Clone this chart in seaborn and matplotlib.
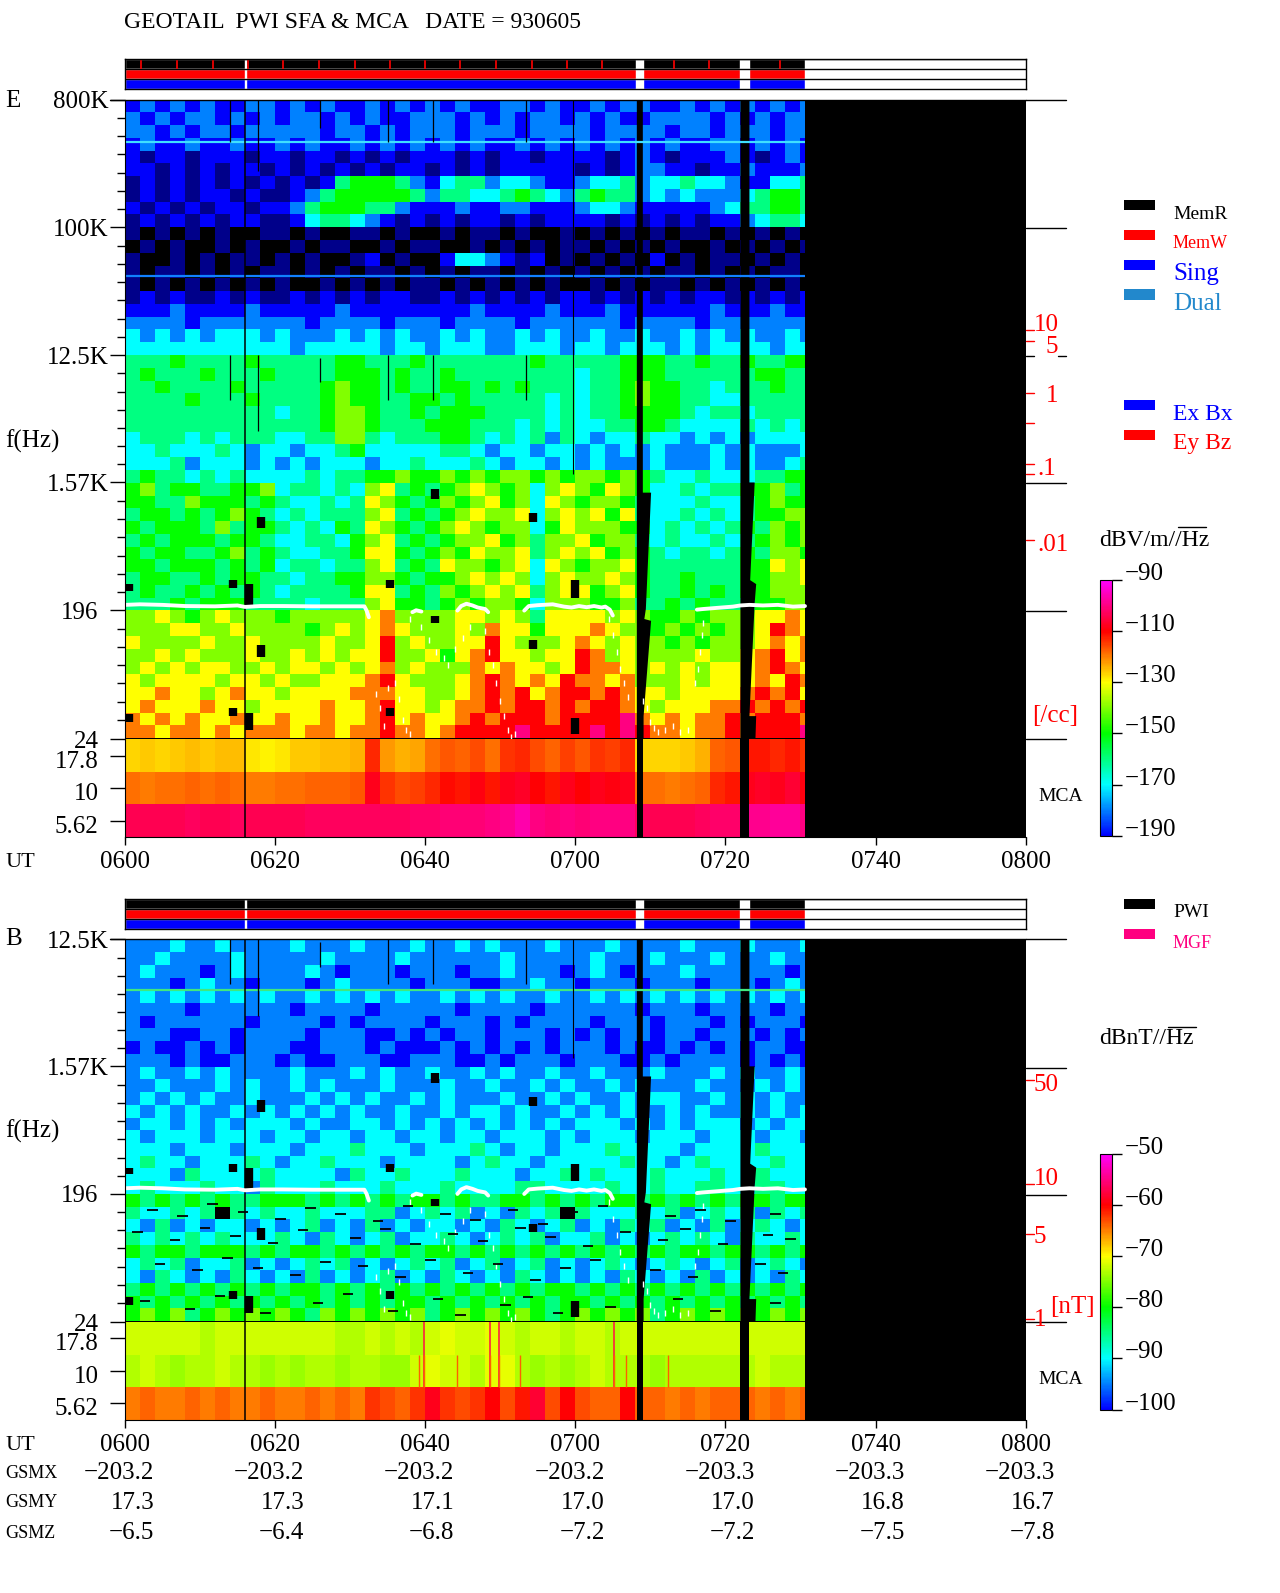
import numpy as np
import pandas as pd
import matplotlib
matplotlib.use('Agg')
import matplotlib.pyplot as plt
import seaborn as sns
from matplotlib.colors import LinearSegmentedColormap
from matplotlib.transforms import ScaledTranslation

# --- DATA ---
# one char per 2 min bin (0600-0732), level scale in LEVELS below
LEVELS = '0123456789abc'

E_ROWS = [
    # 800K - 100K
    "2323232233 2323223232 3232233232 2323322323 232323",
    "3232332323 2332323223 3323232332 3232233332 323233",
    "3323233233 3332332323 3323332333 3233332332 333233",
    "2322322322 3232232323 2323223232 3232323223 323232",
    "2122122212 2122121212 2212122122 2212321222 321232",
    "2212121221 2121212122 1212122222 1212332212 232223",
    "1212121212 1212566653 2455344322 3445344544 322445",
    "1212122121 1235666665 3554456543 5655343433 345665",
    "2121212212 2356665532 2232233222 3443222223 455665",
    "1212121221 1245543212 1212212122 2212121212 234554",
    # 100K - 12.5K
    "1010101001 1010011010 0101101001 0101010110 101010",
    "0101001010 0101100101 1001010101 1010101001 010101",
    "1001010110 1010012010 0244321201 0101020101 101010",
    "1011010101 1010101101 0101101010 1010101101 010110",
    "1010101010 1001010101 1010101010 0101011010 101010",
    "1212112121 1212121221 1212121212 2121212122 121212",
    "2223222232 2222322222 2223222232 2232222223 222322",
    "3333233333 3323333233 3233332333 3332333323 333333",
    "4343434443 4333434343 3434334343 3433433434 343343",
    "4444444444 4344444344 3444334443 4434443434 444344",
    # 12.5K - 1.57K
    "5556555565 5555665556 5555555655 5556665565 565566",
    "5655565556 5555666565 5655555555 4556665555 556655",
    "5565555655 5556766565 5665656555 4556766554 555655",
    "5555655565 5556766556 6565555545 4556766554 455555",
    "5555555555 4556776556 5666555545 4556666545 545555",
    "5555555555 5556776555 6665554545 4455665444 454545",
    "4555454555 4455775455 5665454535 4344544343 434444",
    "4454445434 4344564444 4554344344 3434343334 343334",
    "4445344434 3434443445 4445434434 3433343334 343345",
    "5655454544 4454556676 6767677676 7767654454 445566",
    # 1.57K - 196
    "6756655667 4554547856 5678767478 7687644545 566756",
    "6655766656 5445458765 6767867487 6776544454 456766",
    "5665656765 4545557856 5678778478 7868544545 456677",
    "6566657566 5454658765 6787677468 7776645454 565767",
    "5656665665 4455467856 5677867577 8677545445 456767",
    "6566556756 5445568865 6768778578 7867654554 565776",
    "6656665656 4554557856 5877678487 6778655555 566878",
    "5665565665 5455667765 6678787478 7787655655 566778",
    "5655656565 4555568856 5767878578 8678655656 566777",
    "5556566655 5545557866 5676776477 7667556565 556677",
    # 196 - 24
    "7787678777 6777778977 7788787588 8878766767 778898",
    "7778877877 7767878987 7787988688 8987767676 778a98",
    "8777787787 7778778a78 7788a87778 9878776767 778989",
    "7787877787 7878788a77 8689a88788 a978777787 789a89",
    "7878788778 7887878978 7779898878 a998787878 889a98",
    "8788887887 8778889a87 7789a9898a 9989777878 8898a9",
    "8898878988 7888899988 7789a9a89a a9a9887888 89a9a8",
    "8988898878 8889889a88 7899a9aa9a 9aa9878889 9a9a9a",
    "9898988988 9889889a89 889a9aaa9a aaab989899 a9aaa9",
    "9989989899 9899899a99 89aaaabaaa ababa99899 a9aaab",
]

B_ROWS = [
    # 12.5K - 1.57K
    "3334334333 3433343334 3343433343 3343333433 343334",
    "3343333433 3334333343 3333343333 3433343334 333433",
    "3433323433 3343233323 3323343332 3432333433 333323",
    "3332343323 3323433332 3332233433 2333233323 332343",
    "3434343434 3343434343 3434343343 3434343434 343434",
    "3333233333 3233332333 3323333233 3333233323 333233",
    "3233333323 3332323333 2333232333 3233323332 323332",
    "3332233233 3323332232 3233233323 2323323323 332323",
    "2322323233 3223332322 2323232323 3323223232 323322",
    "3332322333 2322333223 3322323332 3332232333 323232",
    # 1.57K - 196
    "3433434333 3433343433 4334343343 3433343334 343343",
    "3343334343 3434333433 3433433434 3343433343 334343",
    "3434343343 3343434334 3433343343 4334344334 343433",
    "4343433434 3434343343 3434434334 3434334343 343434",
    "3443434344 4343344343 4343434343 4443434344 434344",
    "4344434443 4434434434 4344344434 3444344434 443443",
    "4443444344 4344454443 4445434434 4454444344 445444",
    "4544344454 3445444344 4434544344 4445443454 444544",
    "4443544445 4444354454 4454443445 4544454445 445444",
    "4544454435 4445444544 4544445544 4454454455 445544",
    # 196 - 24
    "6565656556 6656565656 6565566565 6566565656 566566",
    "5445450545 4454445534 5453435450 5444545345 453545",
    "4353434434 3453435343 4434354345 3435453435 345434",
    "5454545444 5435434534 4543454534 4534345454 354454",
    "6566566656 5665656565 6656565656 5656565665 665656",
    "4545344534 3454534345 4534534534 3454345434 534543",
    "4354343543 4353434534 3543435434 3435434353 434354",
    "5656565656 5665656565 6565656566 5656565656 565656",
    "6565656565 6565656566 5656565656 6565656565 656565",
    "6767567676 7657676767 5676767656 7676756767 676767",
]

# thin black dashes in the magnetic spectrum (start minute, frequency Hz)
DASH_T = [3, 7, 11, 15, 20, 24, 28, 33, 37, 42, 46, 51, 55, 59, 63, 72, 76, 80, 86,
          1, 6, 10, 14, 19, 23, 30, 34, 38, 43, 47, 52, 56, 61, 66, 71, 74, 79, 85, 88,
          4, 9, 13, 17, 22, 26, 31, 36, 40, 45, 49, 54, 58, 62, 70, 75, 84, 87,
          2, 8, 12, 18, 25, 29, 35, 41, 44, 50, 53, 57, 64, 73, 78, 86]
DASH_F = [150, 135, 165, 145, 130, 155, 140, 125, 160, 140, 128, 150, 120, 145, 160, 135, 150, 125, 140,
          105, 92, 112, 98, 88, 108, 95, 110, 86, 102, 90, 112, 96, 84, 105, 92, 110, 86, 100, 94,
          62, 56, 68, 58, 52, 64, 60, 50, 66, 54, 62, 48, 58, 66, 56, 50, 62, 54,
          34, 30, 37, 28, 33, 38, 29, 35, 27, 32, 36, 28, 31, 35, 29, 33]

# MCA channels, dB per 2 min bin
MCA_E_178 = [-127, -126, -127, -126, -125, -126, -125, -125, -128, -129,
             -128, -126, -126, -125, -125, -124, -113, -122, -124, -123,
             -119, -117, -118, -116, -119, -114, -113, -116, -118, -115,
             -117, -114, -115, -113, -127, -127, -127, -126, -124, -118,
             -117, -112, -112, -113, -112, -114]
MCA_E_10 = [-119, -120, -119, -119, -118, -119, -118, -119, -120, -120,
            -119, -119, -118, -118, -118, -117, -108, -114, -116, -115,
            -113, -111, -112, -109, -112, -108, -107, -110, -112, -108,
            -110, -108, -109, -108, -119, -119, -120, -119, -118, -113,
            -112, -108, -107, -108, -106, -109]
MCA_E_562 = [-104, -104, -104, -104, -103, -104, -104, -103, -104, -104,
             -104, -104, -103, -103, -103, -103, -103, -103, -103, -102,
             -102, -101, -101, -101, -100, -99, -97, -100, -101, -100,
             -101, -100, -100, -100, -103, -104, -104, -104, -103, -102,
             -102, -99, -99, -98, -98, -100]
MCA_B_178 = [-72, -72, -72, -72, -72, -73, -72, -72, -72, -72,
             -72, -72, -72, -72, -73, -73, -72, -73, -72, -73,
             -72, -71, -72, -72, -71, -72, -73, -72, -72, -73,
             -72, -72, -73, -72, -72, -72, -72, -72, -72, -72,
             -72, -72, -72, -72, -72, -72]
MCA_B_10 = [-73, -72, -73, -74, -73, -73, -72, -73, -73, -74,
            -73, -74, -73, -73, -74, -73, -73, -74, -74, -72,
            -71, -72, -72, -73, -71, -71, -73, -74, -73, -74,
            -73, -72, -73, -73, -73, -74, -73, -73, -73, -73,
            -73, -73, -72, -73, -73, -73]
MCA_B_562 = [-65, -64, -65, -65, -64, -65, -64, -65, -65, -64,
             -65, -65, -64, -65, -64, -65, -62, -63, -64, -62,
             -59, -62, -63, -62, -60, -63, -61, -58, -63, -60,
             -63, -64, -64, -60, -64, -64, -65, -64, -65, -64,
             -64, -64, -65, -64, -65, -64]

# thin spikes in the magnetic MCA channels (minutes after 0600)
SPIKE_178_T = [39.8, 48.6, 49.9, 65.2]
SPIKE_10_T = [39.2, 39.8, 44.2, 48.6, 49.9, 52.6, 65.2, 66.8, 72.3]

# narrow lines across the whole time range
E_CW_F = [400000, 45000]
E_CW_COL = ['#40e0ff', '#1080ff']
B_CW_F = [5500]
B_CW_COL = ['#40e880']

# data gaps
DATA_END = 90.6
GAP_T = [(68.2, 69.0), (82.0, 83.2)]
GAP1_T = [68.2, 69.0, 69.0, 70.1, 69.4, 69.2, 70.1, 69.1, 69.1, 68.2]
GAP1_F = [900000, 900000, 1330, 1330, 200, 170, 165, 35, 24, 24]
GAP2_T = [82.0, 83.2, 83.2, 83.9, 83.3, 84.1, 83.9, 83.8, 83.2, 84.1, 84.0, 82.0]
GAP2_F = [900000, 900000, 1570, 1570, 320, 300, 220, 170, 35, 35, 24, 24]

# thin vertical dropouts: time, upper and lower frequency
DROP_T = [14.0, 17.7, 26.0, 35.0, 41.0, 53.5]
DROP_HI = [800000, 800000, 800000, 800000, 800000, 800000]
DROP_LO = [400000, 250000, 500000, 400000, 400000, 400000]
DROP2_HI = [12500, 12500, 12000, 12500, 12500, 12500]
DROP2_LO = [6000, 3600, 8000, 6000, 6000, 6000]

# black blocks
BLOCK_T = [0.5, 0.5, 14.4, 14.4, 16.5, 16.5, 18.15, 18.15, 35.3, 35.3,
           41.3, 41.3, 54.4, 54.4, 60.0, 60.0]
BLOCK_HI = [300, 36, 320, 40, 300, 37, 900, 112, 320, 40,
            1400, 180, 950, 120, 320, 34]
BLOCK_LO = [270, 32, 280, 35, 210, 28, 750, 92, 280, 35,
            1200, 160, 820, 105, 240, 26]

# electron plasma line
LINE_T = [
    [0, 2, 5, 8, 12, 15, 16, 18, 21, 25, 30, 31.9, 32.2, 32.5],
    [38.3, 38.8, 39.5],
    [44.3, 44.8, 45.5, 46.3, 47, 48, 48.4],
    [53.2, 53.8, 55, 57, 58.5, 59.5, 60.5, 61.5, 62.5, 63.5, 64, 64.6, 65],
    [76.2, 77, 79, 81, 82, 83.2, 85, 87, 89, 90.6],
]
LINE_F = [
    [214, 216, 214, 210, 209, 212, 207, 210, 210, 209, 209, 209, 195, 175],
    [190, 196, 192],
    [195, 210, 218, 212, 205, 200, 190],
    [195, 210, 213, 216, 208, 205, 210, 206, 210, 205, 208, 198, 180],
    [198, 200, 204, 208, 212, 214, 212, 214, 208, 210],
]
DOT_T = [38, 39.5, 40.5, 41.5, 42.5, 43, 44, 45, 46, 33.5, 34, 34.5, 35, 36, 36.5,
         37, 37.5, 38, 48, 48.5, 49, 49.5, 50, 50.5, 51, 51.5, 52, 64.5, 65, 65.5,
         66, 66.5, 67, 69, 69.5, 70, 70.5, 71, 72, 73, 74, 75, 76, 76.3, 76.6, 76.9, 77]
DOT_F = [170, 150, 120, 100, 90, 80, 105, 125, 150, 50, 40, 30, 55, 60, 46,
         33, 28, 26, 140, 100, 80, 60, 45, 35, 28, 25, 26, 170, 130, 100,
         75, 60, 48, 45, 40, 32, 29, 27, 28, 30, 27, 28, 60, 75, 100, 130, 160]

STRIP_START = [0, 16.15, 69.0, 83.2]
STRIP_WIDTH = [16.0, 51.95, 13.0, 7.4]
MEMR_TICKS = [2.2, 6.9, 11.7, 16.4, 21.1, 25.8, 30.6, 35.3, 40.0, 44.7, 49.5, 54.2, 58.9, 63.6, 73.1, 77.8, 87.3]

TIME_LABELS = ['0600', '0620', '0640', '0700', '0720', '0740', '0800']
GSMX = ['-203.2', '-203.2', '-203.2', '-203.2', '-203.3', '-203.3', '-203.3']
GSMY = ['17.3', '17.3', '17.1', '17.0', '17.0', '16.8', '16.7']
GSMZ = ['-6.5', '-6.4', '-6.8', '-7.2', '-7.2', '-7.5', '-7.8']

COLORS = ['#000000', '#00008c', '#0000ff', '#0080ff', '#00ffff', '#00ff80', '#00ff00',
          '#80ff00', '#ffff00', '#ff8000', '#ff0000', '#ff0080', '#ff00ff']

# --- LAYOUT (picture units, S scales to the 1280 px image) ---
S = 1.0155
W, H = 1280, 1593
FONT = 'Liberation Serif'
FS = 18
cmap = LinearSegmentedColormap.from_list('pwi', COLORS, N=256)

sns.set_style('white')
plt.rcParams['font.family'] = FONT
plt.rcParams['text.color'] = 'black'
plt.rcParams['xtick.color'] = 'black'
plt.rcParams['ytick.color'] = 'black'

fig = plt.figure(figsize=(W / 100, H / 100), dpi=100, facecolor='white')


def box(x0, y0, x1, y1):
    return fig.add_axes([x0 * S / W, 1 - y1 * S / H, (x1 - x0) * S / W, (y1 - y0) * S / H])


def decode(rows, vmin, step):
    out = []
    for r in rows:
        r = r.replace(' ', '')
        out.append([vmin + step * LEVELS.index(c) for c in r])
    # the columns after the end of the data stay empty, the axes show black there
    df = pd.DataFrame(out).reindex(columns=range(60))
    return df


def draw_strip(y0, ticks):
    ax = box(123, y0, 1010, y0 + 30)
    ax.set_xlim(0, 120)
    ax.set_ylim(3, 0)
    for row, col in enumerate(['black', 'red', 'blue']):
        ax.barh([row + 0.5] * 4, STRIP_WIDTH, left=STRIP_START, height=1, color=col)
        ax.axhline(row, color='black', lw=1)
    if ticks:
        ax.vlines(ticks, 0.05, 0.95, color='red', lw=1.2)
    ax.set_xticks([])
    ax.set_yticks([])
    for sp in ax.spines.values():
        sp.set_visible(True)
        sp.set_color('black')
        sp.set_linewidth(1)


def draw_panel(rows, f_top, y0, y_main, y1, vmin, vmax, step, mca, ylabels, ypads, cbar_box, cbar_ticks, cw_f, cw_col):
    n = len(rows)
    ax = box(123, y0, 1010, y_main)
    cax = box(*cbar_box)
    df = decode(rows, vmin, step)
    sns.heatmap(df, ax=ax, cmap=cmap, vmin=vmin, vmax=vmax, cbar_ax=cax,
                xticklabels=False, yticklabels=False)
    ax.set_facecolor('black')

    def row_of(f):
        return 10 * np.log(f_top / np.asarray(f, dtype=float)) / np.log(8)

    ax.hlines(row_of(cw_f), 0, DATA_END / 2, colors=cw_col, lw=1.6)
    ax.axvspan(DATA_END / 2, 60, color='black', lw=0)
    ax.fill(np.array(GAP1_T) / 2, row_of(GAP1_F), color='black', lw=0)
    ax.fill(np.array(GAP2_T) / 2, row_of(GAP2_F), color='black', lw=0)
    ax.set_xlim(0, 60)
    ax.set_ylim(n, 0)

    # thin dropouts and blocks
    ax.vlines(8.0, 0, n, color='black', lw=1.1)
    ax.vlines(59.7 / 2, 0, row_of(1800), color='black', lw=0.8)
    t = np.array(DROP_T) / 2
    ax.vlines(t, row_of(DROP_HI), row_of(DROP_LO), color='black', lw=0.9)
    ax.vlines(t, row_of(DROP2_HI), row_of(DROP2_LO), color='black', lw=0.9)
    ax.vlines(np.array(BLOCK_T) / 2, row_of(BLOCK_HI), row_of(BLOCK_LO), color='black', lw=6)

    # white plasma line
    for lt, lf in zip(LINE_T, LINE_F):
        sns.lineplot(x=np.array(lt) / 2, y=row_of(lf), ax=ax, color='white', lw=2.8,
                     sort=False, estimator=None)
    sns.scatterplot(x=np.array(DOT_T) / 2, y=row_of(DOT_F), ax=ax, color='white', marker='|',
                    s=22, linewidth=1.0)
    ax.set_xlim(0, 60)
    ax.set_ylim(n, 0)

    ticks = list(row_of(ylabels[0]))
    ax.set_yticks(ticks)
    ax.set_yticklabels(ylabels[1], fontsize=FS, rotation=0)
    ax.set_yticks([r + k * 10 / 7 for r in range(0, n, 10) for k in range(1, 7)], minor=True)
    ax.tick_params(axis='y', which='major', left=True, length=11, width=1, pad=1)
    ax.tick_params(axis='y', which='minor', left=True, length=6, width=1)
    for tk, pad in zip(ax.yaxis.get_major_ticks(), ypads):
        tk.set_pad(pad)
    ax.spines['left'].set_visible(True)
    ax.spines['left'].set_color('black')

    # colour bar cut to the labelled range
    cbar = ax.collections[0].colorbar
    cbar.set_ticks(cbar_ticks)
    cbar.set_ticklabels([str(v).replace('-', '\u2212') for v in cbar_ticks], fontsize=FS)
    cax.set_ylim(cbar_ticks[-1], cbar_ticks[0])
    cax.tick_params(axis='y', right=True, length=7, width=1, pad=2)
    down = ScaledTranslation(0, -5 / 100, fig.dpi_scale_trans)
    for lab in cax.get_yticklabels():
        lab.set_verticalalignment('bottom')
        lab.set_transform(lab.get_transform() + down)
    cbar.outline.set_edgecolor('black')
    cbar.outline.set_linewidth(0.8)

    # MCA part
    mx = box(123, y_main, 1010, y1)
    mca_df = pd.DataFrame(mca, index=['17.8', '10', '5.62']).reindex(columns=range(60))
    sns.heatmap(mca_df, ax=mx, cmap=cmap, vmin=vmin, vmax=vmax, cbar=False,
                xticklabels=False, yticklabels=True)
    mx.set_facecolor('black')
    mx.axvspan(DATA_END / 2, 60, color='black', lw=0)
    for g0, g1 in GAP_T:
        mx.axvspan(g0 / 2, g1 / 2, color='black', lw=0)
    mx.vlines(8.0, 0, 3, color='black', lw=1.1)
    mx.set_xticks(np.arange(0, 61, 10))
    mx.set_xticklabels(TIME_LABELS, fontsize=FS, rotation=0)
    mx.set_yticklabels(mx.get_yticklabels(), fontsize=FS, rotation=0)
    mx.tick_params(axis='x', bottom=True, length=5.5, width=1, pad=5)
    mx.tick_params(axis='y', left=True, length=11, width=1, pad=1)
    for tk in mx.yaxis.get_major_ticks():
        tk.set_pad(8)
    # the channel labels sit a little under their ticks
    shift = ScaledTranslation(0, -6 / 100, fig.dpi_scale_trans)
    for lab in mx.get_yticklabels():
        lab.set_transform(lab.get_transform() + shift)
    mx.set_xlabel('')
    mx.set_ylabel('')
    for name in ['left', 'bottom']:
        mx.spines[name].set_visible(True)
        mx.spines[name].set_color('black')

    return ax, mx


# --- PANELS ---
draw_strip(58, MEMR_TICKS)
draw_panel(E_ROWS, 800000, 98, 728, 824, -210, -90, 10,
           [MCA_E_178, MCA_E_10, MCA_E_562],
           ([800000, 100000, 12500, 1570, 196, 24], ['800K', '100K', '12.5K', '1.57K', '196', '24']),
           [1, 1, 1, 1, 8, 8], (1083, 571, 1095, 823), [-90, -110, -130, -150, -170, -190],
           E_CW_F, E_CW_COL)

draw_strip(885, None)
ax_b, mx_b = draw_panel(B_ROWS, 12500, 925, 1302, 1398, -110, -50, 5,
                        [MCA_B_178, MCA_B_10, MCA_B_562],
                        ([12500, 1570, 196, 24], ['12.5K', '1.57K', '196', '24']),
                        [1, 1, 8, 8], (1083, 1136, 1095, 1388), [-50, -60, -70, -80, -90, -100],
                        B_CW_F, B_CW_COL)
dash_rows = 10 * np.log(12500 / np.array(DASH_F, dtype=float)) / np.log(8)
ax_b.hlines(dash_rows, np.array(DASH_T) / 2, np.array(DASH_T) / 2 + 0.7, color='black', lw=1.3)
mx_b.vlines(np.array(SPIKE_178_T) / 2, 0, 2, color='#ff2040', lw=1.2)
mx_b.vlines(np.array(SPIKE_10_T) / 2, 1, 2, color='#ff6000', lw=1.0)

# --- TEXT AND FRAME ---
over = fig.add_axes([0, 0, 1, 1], facecolor='none')
over.set_xlim(0, W / S)
over.set_ylim(H / S, 0)
over.axis('off')


def say(x, y, s, color='black', ha='left', size=FS):
    over.text(x, y + 2, s, color=color, ha=ha, va='center', fontsize=size)


say(122, 20, 'GEOTAIL  PWI SFA & MCA   DATE = 930605', size=17)
say(5, 97, 'E')
say(5, 433, 'f(Hz)')
say(5, 847, 'UT', size=16)
say(5, 923, 'B')
say(5, 1112, 'f(Hz)')

for y in [98, 225, 476, 602, 728, 925, 1052, 1177, 1302]:
    over.plot([1010, 1050], [y, y], color='black', lw=1)
over.plot([108, 1010], [98, 98], color='black', lw=1)
over.plot([108, 1010], [925, 925], color='black', lw=1)
over.plot([1010, 1018], [351, 351], color='black', lw=1)
over.plot([1042, 1050], [351, 351], color='black', lw=1)

# density scale in red
for y in [325, 336, 387, 417, 457, 467, 532, 1064, 1166, 1215, 1299]:
    over.plot([1010, 1018], [y, y], color='red', lw=1)
for x, y, s in [(1018, 318, '10'), (1030, 340, '5'), (1030, 388, '1'), (1022, 460, '.1'), (1022, 535, '.01'),
                (1016, 703, '[/cc]'), (1018, 1066, '50'), (1018, 1159, '10'), (1018, 1216, '5'),
                (1018, 1298, '1'), (1034, 1285, '[nT]')]:
    say(x, y, s, color='red')
say(1023, 782, 'MCA', size=14)
say(1023, 1356, 'MCA', size=14)

# legends
for y, s, col, size in [(202, 'MemR', 'black', 14), (231, 'MemW', 'red', 13), (261, 'Sing', 'blue', 18),
                        (290, 'Dual', '#2288cc', 18), (399, 'Ex Bx', 'blue', 17), (428, 'Ey Bz', 'red', 17),
                        (890, 'PWI', 'black', 14), (920, 'MGF', '#ff0080', 13)]:
    over.fill_between([1107, 1137], y - 5, y + 5, color=col, lw=0)
    say(1155, y + 7, s, color=col, size=size)

say(1082, 530, 'dBV/m//Hz', size=17)
over.plot([1160, 1188], [519, 519], color='black', lw=1)
say(1082, 1021, 'dBnT//Hz', size=17)
over.plot([1150, 1178], [1011, 1011], color='black', lw=1)

# position table under the lower panel
say(5, 1421, 'UT', size=16)
say(5, 1449, 'GSMX', size=13)
say(5, 1478, 'GSMY', size=13)
say(5, 1508, 'GSMZ', size=13)
for i in range(len(TIME_LABELS)):
    x = 123 + i * 887 / 6
    say(x + 29, 1449, GSMX[i].replace('-', '\u2212'), ha='right')
    say(x + 29, 1478, GSMY[i], ha='right')
    say(x + 29, 1508, GSMZ[i].replace('-', '\u2212'), ha='right')

fig.savefig('out.png', dpi=100, facecolor='white')
plt.close(fig)
